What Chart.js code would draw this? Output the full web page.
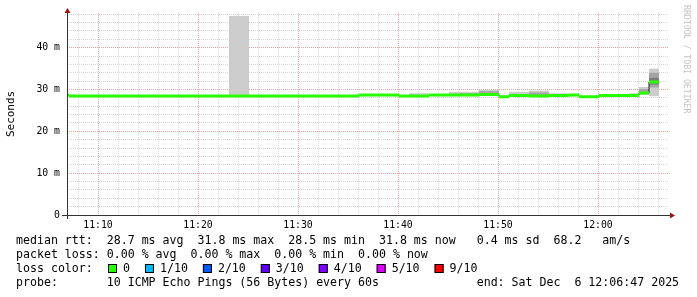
<!DOCTYPE html>
<html>
<head>
<meta charset="utf-8">
<script src="https://cdn.jsdelivr.net/npm/chart.js@4"></script>
<style>
  html, body { margin: 0; padding: 0; background: #fff; }
</style>
</head>
<body>
<canvas id="chart" width="697" height="297"></canvas>
<script>
// time axis: minutes after 11:00, one bin per minute
const firstBin = 6.1;
const binSize = 1;
const xMin = 6.9;
const xMax = 67.1;
const yMax = 48.33;

// median rtt per bin (ms)
const medianRtt = [28.7,
  28.45, 28.45, 28.45, 28.45, 28.45, 28.45, 28.45, 28.45, 28.45, 28.45,
  28.45, 28.45, 28.45, 28.45, 28.45, 28.45, 28.45, 28.45, 28.45, 28.45,
  28.45, 28.45, 28.45, 28.45, 28.45, 28.45, 28.45, 28.45, 28.45,
  28.7, 28.7, 28.7, 28.7,
  28.45, 28.45, 28.45,
  28.7, 28.7, 28.7, 28.7, 28.7,
  28.8, 28.8, 28.3, 28.6, 28.6, 28.45, 28.45, 28.6, 28.6, 28.7, 28.3, 28.3,
  28.6, 28.6, 28.6, 28.6, 29.2, 31.8];

// smoke: spread of the 10 pings (ms), by bin index
const lightBins = [17, 18, 35, 36, 39, 40, 41, 42, 43, 45, 46, 47, 48, 49, 50, 57, 58, 59];
const lightLow  = [28.5, 28.5, 28.4, 28.4, 28.45, 28.45, 28.45, 28.5, 28.5, 28.45, 28.45, 28.4, 28.4, 28.5, 28.5, 28.5, 28.7, 28.4];
const lightHigh = [47.6, 47.6, 29.1, 29.1, 29.45, 29.45, 29.45, 29.9, 29.9, 29.45, 29.45, 29.75, 29.75, 29.1, 29.1, 29.1, 30.6, 35.0];
const midBins = [40, 41, 42, 43, 47, 48, 58, 59];
const midLow  = [28.6, 28.6, 28.7, 28.7, 28.5, 28.5, 28.9, 30.5];
const midHigh = [29.1, 29.1, 29.6, 29.6, 29.3, 29.3, 30.1, 34.0];
const darkBins = [59];
const darkLow  = [31.2];
const darkHigh = [32.8];

// tick labels
const yLabelValues = [0, 10, 20, 30, 40];
const yLabelText = ['0', '10 m', '20 m', '30 m', '40 m'];
const xLabelValues = [10, 20, 30, 40, 50, 60];
const xLabelText = ['11:10', '11:20', '11:30', '11:40', '11:50', '12:00'];

// legend
const legendLines = [
  'median rtt:  28.7 ms avg  31.8 ms max  28.5 ms min  31.8 ms now   0.4 ms sd  68.2   am/s',
  'packet loss: 0.00 % avg  0.00 % max  0.00 % min  0.00 % now',
  'loss color:',
  'probe:       10 ICMP Echo Pings (56 Bytes) every 60s              end: Sat Dec  6 12:06:47 2025'
];
const lossLabels = ['0', '1/10', '2/10', '3/10', '4/10', '5/10', '9/10'];
const lossColors = ['#26ff00', '#00b8ff', '#0059ff', '#5e00ff', '#7e00ff', '#dd00ff', '#ff0000'];

const mono = '"DejaVu Sans Mono", monospace';

const binX = medianRtt.map((v, i) => firstBin + i * binSize);

// green median: flat piece per bin, broken between bins
const greenPts = [];
medianRtt.forEach((v, i) => {
  greenPts.push({x: binX[i], y: v}, {x: binX[i] + binSize, y: v}, {x: binX[i] + binSize, y: null});
});
// thin dark median line joins the steps
const stepPts = medianRtt.map((v, i) => ({x: binX[i], y: v}));
stepPts.push({x: binX[binX.length - 1] + binSize, y: medianRtt[medianRtt.length - 1]});

function smoke(bins, lo, hi) {
  return bins.map((k, j) => ({x: binX[k] + binSize / 2, y: [lo[j], hi[j]]}));
}

function gridColor(ctx) {
  if (!ctx.tick) return '#d6d6d6';
  return ctx.tick.value % 10 === 0 ? '#eba3a3' : '#d6d6d6';
}

const decorations = {
  id: 'decorations',
  afterDraw(chart) {
    const {ctx, chartArea: a} = chart;
    ctx.save();
    // axes
    ctx.strokeStyle = '#333';
    ctx.lineWidth = 1;
    ctx.beginPath();
    ctx.moveTo(a.left - 5, a.bottom + 0.5);
    ctx.lineTo(a.right + 1, a.bottom + 0.5);
    ctx.moveTo(a.left + 0.5, a.bottom + 4);
    ctx.lineTo(a.left + 0.5, a.top - 1);
    ctx.stroke();
    // arrows
    ctx.fillStyle = '#a01414';
    ctx.beginPath();
    ctx.moveTo(a.left + 0.5, a.top - 5);
    ctx.lineTo(a.left + 3.5, a.top);
    ctx.lineTo(a.left - 2.5, a.top);
    ctx.closePath();
    ctx.fill();
    ctx.beginPath();
    ctx.moveTo(a.right + 6, a.bottom + 0.5);
    ctx.lineTo(a.right + 1, a.bottom - 2.5);
    ctx.lineTo(a.right + 1, a.bottom + 3.5);
    ctx.closePath();
    ctx.fill();

    // legend
    ctx.fillStyle = '#000';
    ctx.font = '11.6px ' + mono;
    ctx.textBaseline = 'middle';
    ctx.textAlign = 'left';
    const rows = [241, 255, 269, 283];
    legendLines.forEach((t, i) => ctx.fillText(t, 16, rows[i]));
    let x = 108;
    lossLabels.forEach((lab, i) => {
      ctx.fillStyle = lossColors[i];
      ctx.fillRect(x, rows[2] - 5, 9, 9);
      ctx.strokeStyle = '#000';
      ctx.strokeRect(x + 0.5, rows[2] - 4.5, 8, 8);
      ctx.fillStyle = '#000';
      ctx.fillText(lab, x + 15, rows[2]);
      x += 15 + ctx.measureText(lab).width + 15;
    });

    // watermark
    ctx.translate(686, 5);
    ctx.rotate(Math.PI / 2);
    ctx.font = '8.2px ' + mono;
    ctx.fillStyle = '#c4c4c4';
    ctx.textBaseline = 'middle';
    ctx.fillText('RRDTOOL / TOBI OETIKER', 0, 0);
    ctx.restore();
  }
};

new Chart(document.getElementById('chart'), {
  type: 'line',
  data: {
    datasets: [
      {type: 'line', data: greenPts, borderColor: '#26ff00', borderWidth: 3, pointRadius: 0,
       spanGaps: false, order: 1, clip: 0},
      {type: 'line', data: stepPts, borderColor: '#202020', borderWidth: 1, pointRadius: 0,
       stepped: true, order: 2, clip: 0},
      {type: 'bar', data: smoke(darkBins, darkLow, darkHigh), backgroundColor: '#7c7c7c', order: 3},
      {type: 'bar', data: smoke(midBins, midLow, midHigh), backgroundColor: '#a4a4a4', order: 4},
      {type: 'bar', data: smoke(lightBins, lightLow, lightHigh), backgroundColor: '#cccccc', order: 5}
    ]
  },
  options: {
    responsive: false,
    animation: false,
    devicePixelRatio: 1,
    layout: { padding: { top: 12, right: 28, left: 0, bottom: 0 } },
    datasets: {
      bar: { barPercentage: 1, categoryPercentage: 1, grouped: false, borderWidth: 0, inflateAmount: 0 }
    },
    plugins: { legend: { display: false }, tooltip: { enabled: false } },
    scales: {
      x: {
        type: 'linear', min: xMin, max: xMax, offset: false,
        afterFit: s => { s.height = 82; },
        border: { display: false, dash: [1, 1] },
        grid: { offset: false, drawTicks: false, color: gridColor },
        ticks: {
          stepSize: 2, autoSkip: false, includeBounds: false, maxRotation: 0, padding: 5,
          color: '#000', font: { family: mono, size: 9.8 },
          callback: v => { const i = xLabelValues.indexOf(v); return i < 0 ? '' : xLabelText[i]; }
        }
      },
      y: {
        type: 'linear', min: 0, max: yMax,
        afterFit: s => { s.width = 67; },
        border: { display: false, dash: [1, 1] },
        grid: { drawTicks: false, color: gridColor },
        ticks: {
          stepSize: 2, autoSkip: false, includeBounds: false, padding: 7,
          color: '#000', font: { family: mono, size: 9.8 },
          callback: v => { const i = yLabelValues.indexOf(v); return i < 0 ? '' : yLabelText[i]; }
        },
        title: { display: true, text: 'Seconds', color: '#000', font: { family: mono, size: 11 },
                 padding: { top: 5, bottom: 0 } }
      }
    }
  },
  plugins: [decorations]
});
</script>
</body>
</html>
